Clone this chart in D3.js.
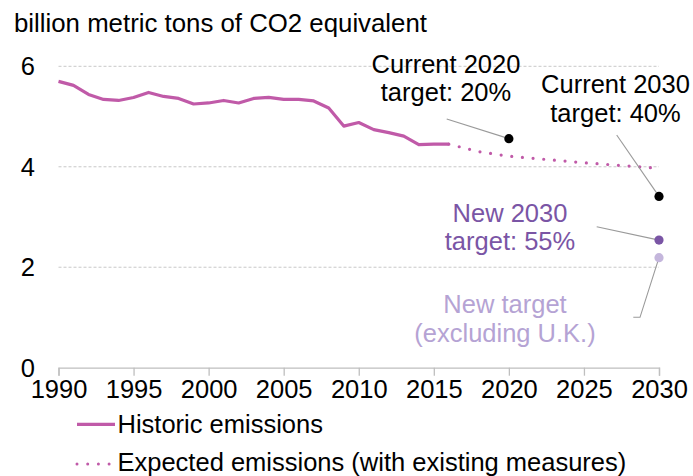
<!DOCTYPE html>
<html>
<head>
<meta charset="utf-8">
<script src="https://cdn.jsdelivr.net/npm/d3@7"></script>
<style>
  body { margin: 0; background: #fff; }
  text { font-family: "Liberation Sans", Arial, sans-serif; }
</style>
</head>
<body>
<svg id="chart" width="693" height="476"></svg>
<script>
// historic emissions, billion metric tons CO2e
var histYears = d3.range(1990, 2017);
var histValues = [5.70, 5.62, 5.44, 5.34, 5.32, 5.38, 5.48, 5.40, 5.36, 5.25,
                  5.27, 5.32, 5.27, 5.36, 5.38, 5.34, 5.34, 5.31, 5.17, 4.81,
                  4.88, 4.74, 4.68, 4.61, 4.44, 4.45, 4.45];

// expected emissions with existing measures
var expYears = [2016, 2018, 2020, 2025, 2030];
var expValues = [4.45, 4.30, 4.21, 4.08, 3.97];

// targets
var targetNames = ["Current 2020 target: 20%", "Current 2030 target: 40%", "New 2030 target: 55%", "New target (excluding U.K.)"];
var targetYears = [2020, 2030, 2030, 2030];
var targetValues = [4.56, 3.41, 2.54, 2.19];

var xTicks = [1990, 1995, 2000, 2005, 2010, 2015, 2020, 2025, 2030];
var yTicks = [0, 2, 4, 6];

var lineColor = "#c05aa8";
var svg = d3.select("#chart");
var fs = "25.5px";

var x = d3.scaleLinear().domain([1990, 2030]).range([58.5, 659]);
var y = d3.scaleLinear().domain([0, 6]).range([367.7, 66.3]);

// title
svg.append("text")
  .attr("x", 14).attr("y", 31.5)
  .style("font-size", "25.8px")
  .text("billion metric tons of CO2 equivalent");

// gridlines
svg.append("g").selectAll("line")
  .data(yTicks.filter(function(d) { return d > 0; }))
  .enter().append("line")
  .attr("x1", x(1990)).attr("x2", x(2030))
  .attr("y1", function(d) { return y(d); })
  .attr("y2", function(d) { return y(d); })
  .attr("stroke", "#c8c8c8")
  .attr("stroke-dasharray", "3,2");

// y labels
svg.append("g").selectAll("text")
  .data(yTicks)
  .enter().append("text")
  .attr("x", 35)
  .attr("y", function(d) { return y(d); })
  .attr("dy", "0.36em")
  .attr("text-anchor", "end")
  .style("font-size", fs)
  .text(function(d) { return d; });

// x axis
var xaxis = svg.append("g")
  .attr("transform", "translate(0," + y(0) + ")")
  .call(d3.axisBottom(x).tickValues(xTicks).tickFormat(d3.format("d")).tickSize(8).tickPadding(4));
xaxis.select(".domain").attr("stroke", "#bfbfbf").attr("stroke-width", 1.3);
xaxis.selectAll(".tick line").attr("stroke", "#bfbfbf").attr("stroke-width", 1.3);
xaxis.selectAll(".tick text")
  .attr("fill", "#000")
  .style("font-size", fs)
  .style("font-family", "'Liberation Sans', Arial, sans-serif");

// lines
var line = d3.line()
  .x(function(d) { return x(d[0]); })
  .y(function(d) { return y(d[1]); });

svg.append("path")
  .datum(d3.zip(expYears, expValues))
  .attr("d", line)
  .attr("fill", "none")
  .attr("stroke", lineColor)
  .attr("stroke-width", 3.2)
  .attr("stroke-linecap", "round")
  .attr("stroke-dasharray", "0,10.7");

svg.append("path")
  .datum(d3.zip(histYears, histValues))
  .attr("d", line)
  .attr("fill", "none")
  .attr("stroke", lineColor)
  .attr("stroke-width", 3.2)
  .attr("stroke-linejoin", "round");

// annotations: connectors, labels
var labelColors = ["#000", "#000", "#7a55a5", "#b5a3d4"];
var dotColors = ["#000", "#000", "#7a55a5", "#c4b6dc"];
var labelPos = [[446, 72.5], [615.5, 93.3], [510, 221.7], [505, 313.3]];
var connectors = [
  [[446.7, 119], null],
  [[616.7, 135], null],
  [[596.7, 226.7], null],
  [[633.3, 317.3], [640, 317.3]]
];
var lineGap = 28.5;

connectors.forEach(function(c, i) {
  var pts = [c[0]];
  if (c[1]) pts.push(c[1]);
  pts.push([x(targetYears[i]), y(targetValues[i])]);
  svg.append("path")
    .attr("d", d3.line()(pts))
    .attr("fill", "none")
    .attr("stroke", "#9a9a9a")
    .attr("stroke-width", 1.1);
});

svg.append("g").selectAll("circle")
  .data(d3.range(targetValues.length))
  .enter().append("circle")
  .attr("cx", function(i) { return x(targetYears[i]); })
  .attr("cy", function(i) { return y(targetValues[i]); })
  .attr("r", 4.6)
  .attr("fill", function(i) { return dotColors[i]; });

var splits = [["Current 2020", "target: 20%"], ["Current 2030", "target: 40%"],
              ["New 2030", "target: 55%"], ["New target", "(excluding U.K.)"]];
splits.forEach(function(s, i) {
  var t = svg.append("text")
    .attr("text-anchor", "middle")
    .attr("fill", labelColors[i])
    .style("font-size", fs);
  s.forEach(function(ln, j) {
    t.append("tspan")
      .attr("x", labelPos[i][0])
      .attr("y", labelPos[i][1] + j * lineGap)
      .text(ln);
  });
});

// legend
var legend = svg.append("g");
legend.append("line")
  .attr("x1", 77).attr("x2", 115).attr("y1", 424.3).attr("y2", 424.3)
  .attr("stroke", lineColor).attr("stroke-width", 3.2);
legend.append("text")
  .attr("x", 117.5).attr("y", 432.5)
  .style("font-size", fs)
  .text("Historic emissions");
legend.append("line")
  .attr("x1", 77).attr("x2", 115).attr("y1", 464)
  .attr("y2", 464)
  .attr("stroke", lineColor).attr("stroke-width", 3)
  .attr("stroke-linecap", "round")
  .attr("stroke-dasharray", "0,10.7");
legend.append("text")
  .attr("x", 117.5).attr("y", 471)
  .style("font-size", fs)
  .text("Expected emissions (with existing measures)");
</script>
</body>
</html>
